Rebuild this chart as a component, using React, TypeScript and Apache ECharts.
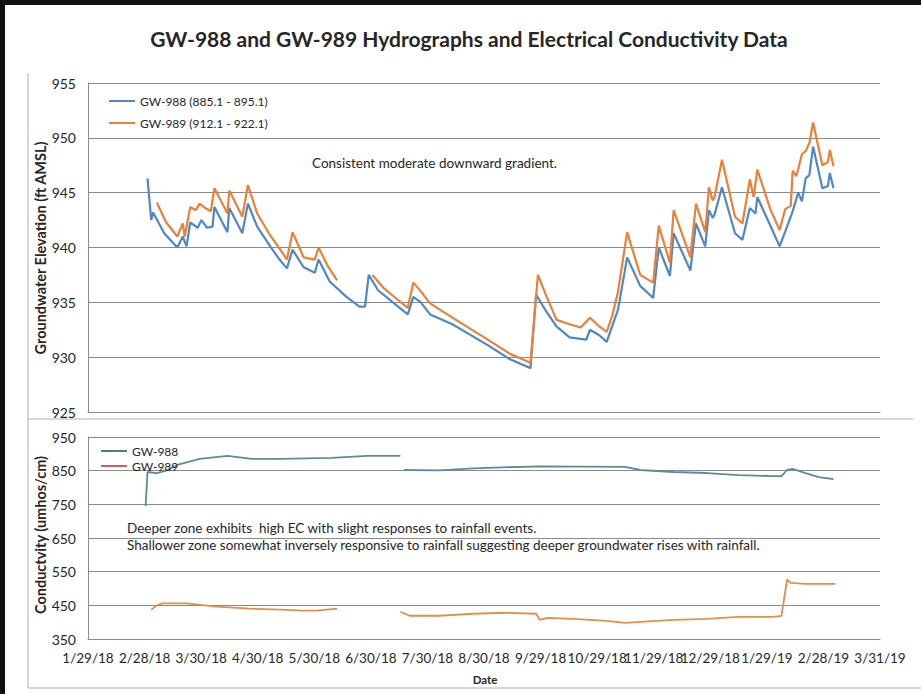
import React, { useEffect, useRef } from "react";
import * as echarts from "echarts";

// ---------- data ----------
const xTickLabels = [
  "1/29/18", "2/28/18", "3/30/18", "4/30/18", "5/30/18", "6/30/18", "7/30/18", "8/30/18",
  "9/29/18", "10/29/18", "11/29/18", "12/29/18", "1/29/19", "2/28/19", "3/31/19",
];

const elevationTicks = { min: 925, max: 955, step: 5 };
const conductivityTicks = { min: 350, max: 950, step: 100 };

const gw988Elevation: [string, number | null][] = [
  ["3/2/18", 946.3], ["3/3/18", 944.4], ["3/4/18", 942.5], ["3/5/18", 943.2], ["3/11/18", 941.3],
  ["3/18/18", 940.0], ["3/21/18", 941.0], ["3/23/18", 940.1], ["3/25/18", 942.3], ["3/29/18", 941.8],
  ["3/31/18", 942.5], ["4/3/18", 941.8], ["4/6/18", 941.9], ["4/7/18", 943.7], ["4/14/18", 941.4],
  ["4/15/18", 943.6], ["4/22/18", 941.3], ["4/25/18", 944.0], ["4/30/18", 941.9], ["5/7/18", 940.1],
  ["5/12/18", 938.9], ["5/16/18", 938.1], ["5/19/18", 939.8], ["5/25/18", 938.2], ["5/31/18", 937.7],
  ["6/2/18", 938.9], ["6/8/18", 936.9], ["6/17/18", 935.5], ["6/24/18", 934.6], ["6/27/18", 934.6],
  ["6/29/18", 937.5], ["7/4/18", 936.1], ["7/12/18", 935.0], ["7/20/18", 933.9], ["7/23/18", 935.5],
  ["7/27/18", 935.0], ["8/1/18", 933.9], ["8/13/18", 933.0], ["9/1/18", 931.1], ["9/13/18", 929.8],
  ["9/24/18", 929.0], ["9/27/18", 935.7], ["10/2/18", 934.3], ["10/8/18", 932.8], ["10/15/18", 931.8],
  ["10/24/18", 931.6], ["10/26/18", 932.5], ["10/31/18", 932.0], ["11/4/18", 931.4], ["11/10/18", 934.3],
  ["11/11/18", 935.2], ["11/15/18", 939.1], ["11/22/18", 936.5], ["11/29/18", 935.4], ["12/2/18", 940.0],
  ["12/8/18", 937.4], ["12/10/18", 941.3], ["12/19/18", 937.9], ["12/22/18", 942.2], ["12/27/18", 940.1],
  ["12/29/18", 943.4], ["12/31/18", 942.7], ["1/1/19", 943.0], ["1/5/19", 945.5], ["1/12/19", 941.3],
  ["1/16/19", 940.7], ["1/20/19", 943.6], ["1/23/19", 943.1], ["1/24/19", 944.6], ["1/31/19", 942.0],
  ["2/5/19", 940.1], ["2/9/19", 941.9], ["2/12/19", 943.3], ["2/15/19", 945.0], ["2/17/19", 944.2],
  ["2/19/19", 946.3], ["2/21/19", 946.6], ["2/23/19", 949.2], ["2/28/19", 945.4], ["3/3/19", 945.6],
  ["3/4/19", 946.8], ["3/6/19", 945.4],
];

const gw989Elevation: [string, number | null][] = [
  ["3/7/18", 944.1], ["3/12/18", 942.3], ["3/18/18", 941.0], ["3/21/18", 942.2], ["3/22/18", 941.0],
  ["3/25/18", 943.7], ["3/28/18", 943.4], ["3/30/18", 944.0], ["4/2/18", 943.6], ["4/5/18", 943.3],
  ["4/7/18", 945.4], ["4/14/18", 943.1], ["4/15/18", 945.2], ["4/22/18", 942.8], ["4/25/18", 945.7],
  ["4/30/18", 943.1], ["5/7/18", 941.1], ["5/12/18", 939.9], ["5/16/18", 938.9], ["5/19/18", 941.4],
  ["5/25/18", 939.1], ["5/31/18", 938.9], ["6/2/18", 940.0], ["6/7/18", 938.3], ["6/12/18", 937.0],
  ["6/20/18", null],
  ["7/1/18", 937.5], ["7/7/18", 936.3], ["7/12/18", 935.6], ["7/20/18", 934.5], ["7/23/18", 936.8],
  ["7/27/18", 936.0], ["8/1/18", 934.9], ["8/13/18", 933.6], ["9/1/18", 931.6], ["9/13/18", 930.3],
  ["9/24/18", 929.5], ["9/28/18", 937.5], ["10/2/18", 935.8], ["10/8/18", 933.4], ["10/15/18", 933.0],
  ["10/21/18", 932.7], ["10/26/18", 933.6], ["10/31/18", 932.8], ["11/4/18", 932.3], ["11/7/18", 933.8],
  ["11/10/18", 935.9], ["11/15/18", 941.4], ["11/22/18", 937.5], ["11/29/18", 936.8], ["12/2/18", 942.0],
  ["12/8/18", 938.6], ["12/10/18", 943.4], ["12/19/18", 939.1], ["12/22/18", 944.0], ["12/27/18", 941.4],
  ["12/29/18", 945.5], ["12/31/18", 944.3], ["1/1/19", 944.6], ["1/5/19", 948.0], ["1/12/19", 942.8],
  ["1/16/19", 942.2], ["1/20/19", 946.2], ["1/22/19", 944.6], ["1/24/19", 947.1], ["1/31/19", 943.5],
  ["2/5/19", 941.6], ["2/8/19", 943.5], ["2/11/19", 943.8], ["2/12/19", 947.0], ["2/14/19", 946.5],
  ["2/17/19", 948.5], ["2/19/19", 948.8], ["2/21/19", 949.5], ["2/23/19", 951.4], ["2/28/19", 947.5],
  ["3/3/19", 947.8], ["3/4/19", 948.9], ["3/6/19", 947.4],
];

const gw988Conductivity: [string, number | null][] = [
  ["3/1/18", 745], ["3/2/18", 846], ["3/7/18", 843], ["3/12/18", 850], ["3/18/18", 867],
  ["3/30/18", 885], ["4/14/18", 894], ["4/27/18", 885], ["5/13/18", 885], ["6/9/18", 888],
  ["6/28/18", 894], ["7/16/18", 894],
  ["7/17/18", null],
  ["7/18/18", 852], ["8/6/18", 851], ["8/24/18", 857], ["9/29/18", 863], ["11/14/18", 861],
  ["11/22/18", 852], ["12/10/18", 846], ["12/28/18", 843], ["1/14/19", 837], ["2/1/19", 834],
  ["2/6/19", 834], ["2/9/19", 852], ["2/12/19", 855], ["2/19/19", 843], ["2/26/19", 831],
  ["3/6/19", 825],
];

const gw989Conductivity: [string, number | null][] = [
  ["3/4/18", 437], ["3/7/18", 450], ["3/10/18", 456], ["3/23/18", 456], ["4/8/18", 446],
  ["4/26/18", 440], ["5/13/18", 437], ["5/24/18", 434], ["6/1/18", 434], ["6/12/18", 440],
  ["6/25/18", null],
  ["7/16/18", 431], ["7/21/18", 419], ["8/6/18", 419], ["8/24/18", 425], ["9/11/18", 428],
  ["9/27/18", 425], ["9/29/18", 407], ["10/3/18", 413], ["10/17/18", 410], ["11/4/18", 404],
  ["11/14/18", 398], ["11/22/18", 401], ["12/10/18", 407], ["12/28/18", 410], ["1/14/19", 416],
  ["2/1/19", 416], ["2/6/19", 419], ["2/9/19", 526], ["2/11/19", 517], ["2/19/19", 514],
  ["3/7/19", 514],
];

// ---------- helpers ----------
const BASE = Date.UTC(2018, 0, 29);
function dayOf(s: string): number {
  const [m, d, y] = s.split("/").map(Number);
  return (Date.UTC(2000 + y, m - 1, d) - BASE) / 86400000;
}
const toXY = (arr: [string, number | null][]) =>
  arr.map(([d, v]) => [dayOf(d), v === null ? "-" : v]);

const X_MAX = dayOf(xTickLabels[xTickLabels.length - 1]);
const X_STEP = X_MAX / (xTickLabels.length - 1);

const FONT = "Lato, 'Open Sans', sans-serif";
const GRID_COLOR = "#8a8a8a";
const TEXT = "#262626";

export default function App() {
  const ref = useRef<HTMLDivElement>(null);

  useEffect(() => {
    if (!ref.current) return;
    const chart = echarts.init(ref.current, undefined, { renderer: "svg" });

    const xAxisBase = {
      type: "value" as const,
      min: 0,
      max: X_MAX,
      interval: X_STEP,
      axisTick: { show: false },
      splitLine: { show: false },
      axisLine: { show: true, lineStyle: { color: GRID_COLOR, width: 1 } },
    };
    const yAxisBase = {
      type: "value" as const,
      axisTick: { show: false },
      axisLine: { show: true, lineStyle: { color: GRID_COLOR, width: 1 } },
      splitLine: { show: true, lineStyle: { color: GRID_COLOR, width: 1 } },
      axisLabel: { color: TEXT, fontSize: 14, fontFamily: FONT, margin: 12 },
    };

    chart.setOption({
      animation: false,
      backgroundColor: "#ffffff",
      textStyle: { fontFamily: FONT },
      grid: [
        { left: 88, top: 83, width: 792, height: 329 },
        { left: 88, top: 437, width: 792, height: 202 },
      ],
      xAxis: [
        { ...xAxisBase, gridIndex: 0, axisLabel: { show: false } },
        {
          ...xAxisBase,
          gridIndex: 1,
          axisLabel: {
            show: true,
            interval: 0,
            hideOverlap: false,
            showMinLabel: true,
            showMaxLabel: true,
            color: TEXT,
            fontSize: 13.5,
            fontFamily: FONT,
            margin: 12,
            formatter: (v: number) => xTickLabels[Math.round(v / X_STEP)] ?? "",
          },
        },
      ],
      yAxis: [
        {
          ...yAxisBase,
          gridIndex: 0,
          min: elevationTicks.min,
          max: elevationTicks.max,
          interval: elevationTicks.step,
        },
        {
          ...yAxisBase,
          gridIndex: 1,
          min: conductivityTicks.min,
          max: conductivityTicks.max,
          interval: conductivityTicks.step,
        },
      ],
      legend: [
        {
          orient: "vertical",
          left: 104,
          top: 90,
          itemWidth: 26,
          itemHeight: 2,
          itemGap: 10,
          icon: "rect",
          textStyle: { color: TEXT, fontSize: 12, fontFamily: FONT },
          data: ["GW-988 (885.1 - 895.1)", "GW-989 (912.1 - 922.1)"],
        },
        {
          orient: "vertical",
          left: 96,
          top: 440,
          itemWidth: 26,
          itemHeight: 2,
          itemGap: 3,
          icon: "rect",
          textStyle: { color: TEXT, fontSize: 12, fontFamily: FONT },
          data: [
            { name: "GW-988", itemStyle: { color: "#4f7f7a" } },
            { name: "GW-989", itemStyle: { color: "#d0605a" } },
          ],
        },
      ],
      series: [
        {
          name: "GW-988 (885.1 - 895.1)",
          type: "line",
          xAxisIndex: 0,
          yAxisIndex: 0,
          showSymbol: false,
          symbol: "none",
          data: toXY(gw988Elevation),
          lineStyle: { color: "#4f88c4", width: 2.2 },
          itemStyle: { color: "#4f88c4" },
        },
        {
          name: "GW-989 (912.1 - 922.1)",
          type: "line",
          xAxisIndex: 0,
          yAxisIndex: 0,
          showSymbol: false,
          symbol: "none",
          data: toXY(gw989Elevation),
          lineStyle: { color: "#e8813a", width: 2.2 },
          itemStyle: { color: "#e8813a" },
        },
        {
          name: "GW-988",
          type: "line",
          xAxisIndex: 1,
          yAxisIndex: 1,
          showSymbol: false,
          symbol: "none",
          data: toXY(gw988Conductivity),
          lineStyle: { color: "#5e8a9c", width: 1.8 },
          itemStyle: { color: "#5e8a9c" },
        },
        {
          name: "GW-989",
          type: "line",
          xAxisIndex: 1,
          yAxisIndex: 1,
          showSymbol: false,
          symbol: "none",
          data: toXY(gw989Conductivity),
          lineStyle: { color: "#e08f4e", width: 1.8 },
          itemStyle: { color: "#e08f4e" },
        },
      ],
      graphic: [
        // outer frame: heavy black top and left edges
        { type: "rect", silent: true, z: 100, shape: { x: 0, y: 0, width: 921, height: 5 }, style: { fill: "#111111" } },
        { type: "rect", silent: true, z: 100, shape: { x: 0, y: 0, width: 5, height: 694 }, style: { fill: "#111111" } },
        // light panel lines
        { type: "line", silent: true, shape: { x1: 28, y1: 73, x2: 28, y2: 688 }, style: { stroke: "#b0b0b0", lineWidth: 1 } },
        { type: "line", silent: true, shape: { x1: 28, y1: 419, x2: 913, y2: 419 }, style: { stroke: "#b0b0b0", lineWidth: 1 } },
        { type: "line", silent: true, shape: { x1: 28, y1: 688, x2: 921, y2: 688 }, style: { stroke: "#b0b0b0", lineWidth: 1 } },
        {
          type: "text",
          x: 469,
          y: 38,
          style: {
            text: "GW-988 and GW-989 Hydrographs and Electrical Conductivity Data",
            fontSize: 21,
            fontWeight: "bold",
            fontFamily: FONT,
            fill: TEXT,
            align: "center",
            verticalAlign: "middle",
          },
        },
        {
          type: "text",
          x: 40,
          y: 248,
          rotation: Math.PI / 2,
          style: {
            text: "Groundwater Elevation (ft AMSL)",
            fontSize: 14.5,
            fontWeight: "bold",
            fontFamily: FONT,
            fill: TEXT,
            align: "center",
            verticalAlign: "middle",
          },
        },
        {
          type: "text",
          x: 40,
          y: 535,
          rotation: Math.PI / 2,
          style: {
            text: "Conductvity (umhos/cm)",
            fontSize: 14.5,
            fontWeight: "bold",
            fontFamily: FONT,
            fill: TEXT,
            align: "center",
            verticalAlign: "middle",
          },
        },
        {
          type: "text",
          x: 485,
          y: 679,
          style: {
            text: "Date",
            fontSize: 11.5,
            fontWeight: "bold",
            fontFamily: FONT,
            fill: TEXT,
            align: "center",
            verticalAlign: "middle",
          },
        },
        {
          type: "text",
          x: 312,
          y: 163,
          style: {
            text: "Consistent moderate downward gradient.",
            fontSize: 13.5,
            fontFamily: FONT,
            fill: TEXT,
            align: "left",
            verticalAlign: "middle",
          },
        },
        {
          type: "text",
          x: 127,
          y: 528,
          style: {
            text: "Deeper zone exhibits  high EC with slight responses to rainfall events.",
            fontSize: 13.5,
            fontFamily: FONT,
            fill: TEXT,
            align: "left",
            verticalAlign: "middle",
          },
        },
        {
          type: "text",
          x: 127,
          y: 545,
          style: {
            text: "Shallower zone somewhat inversely responsive to rainfall suggesting deeper groundwater rises with rainfall.",
            fontSize: 13.5,
            fontFamily: FONT,
            fill: TEXT,
            align: "left",
            verticalAlign: "middle",
          },
        },
      ],
    });

    return () => chart.dispose();
  }, []);

  return (
    <div
      ref={ref}
      style={{ position: "fixed", left: 0, top: 0, width: 921, height: 694, background: "#fff" }}
    />
  );
}
